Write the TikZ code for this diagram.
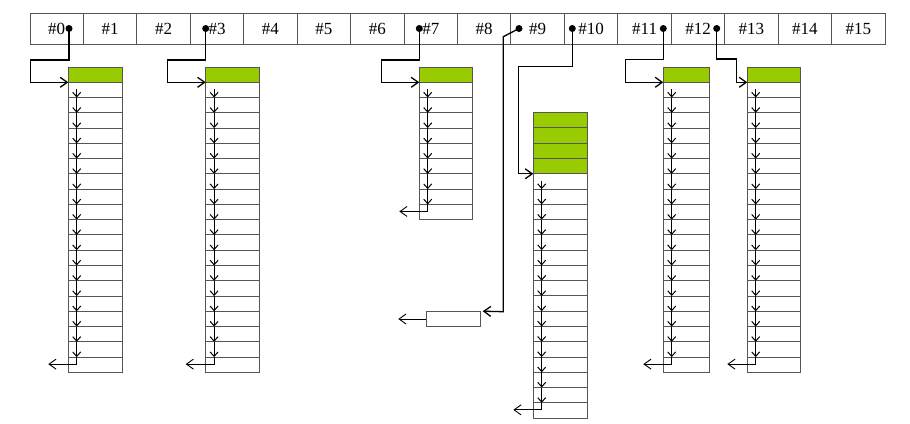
\documentclass[tikz,border=0pt]{standalone}
\usepackage{fontspec}
\setmainfont{Liberation Serif}
\usetikzlibrary{arrows.meta,calc}
\definecolor{cellgreen}{RGB}{153,204,0}
\definecolor{edgegray}{RGB}{85,85,85}
\tikzset{
  cellbox/.style={draw=edgegray,line width=1pt},
  topcell/.style={draw=edgegray,line width=1pt,minimum width=53.44pt,minimum height=30.7pt,inner sep=0pt,font=\fontsize{17}{19}\selectfont},
  downarr/.style={line width=1pt,-{Straight Barb[length=4.5pt,width=8pt]}},
  outarr/.style={line width=0.9pt,-{Straight Barb[length=7pt,width=10pt]}},
  ptr/.style={line width=1.3pt,-{Straight Barb[length=7pt,width=10pt]}},
  ptrdot/.style={fill=black,circle,inner sep=0pt,minimum size=7pt},
}
\newcommand\chaincol[5]{%
  \foreach \i in {1,...,#4}{
    \draw[cellbox,fill=cellgreen] (#1,{#3+(\i-1)*15.27}) rectangle ++(#2,15.27);
  }
  \pgfmathsetmacro\wtop{#3+#4*15.27}
  \foreach \i in {1,...,#5}{
    \draw[cellbox] (#1,{\wtop+(\i-1)*15.27}) rectangle ++(#2,15.27);
  }
  \pgfmathsetmacro\ax{#1+8.4}
  \pgfmathtruncatemacro\nlast{#5-1}
  \draw[downarr] (\ax,{\wtop+7}) -- (\ax,{\wtop+15.27});
  \foreach \i in {2,...,\nlast}{
    \draw[downarr] (\ax,{\wtop+(\i-1)*15.27}) -- (\ax,{\wtop+\i*15.27});
  }
  \pgfmathsetmacro\ly{\wtop+\nlast*15.27}
  \draw[outarr] (\ax,\ly) -- (\ax,{\ly+7}) -- ({#1-20},{\ly+7});
}
\begin{document}
\begin{tikzpicture}[x=1pt,y=-1pt]
\useasboundingbox (0,0) rectangle (910,423);
% top array
\foreach \k in {0,...,15}{
  \node[topcell] (c\k) at ({30+53.44*(\k+0.5)},28.65) {\#\k};
}
% columns
\chaincol{68.3}{54}{67}{1}{19}
\chaincol{205.7}{53.6}{67}{1}{19}
\chaincol{419.3}{53.4}{67}{1}{9}
\chaincol{533.3}{54.4}{112.7}{4}{16}
\chaincol{663.3}{46}{67}{1}{19}
\chaincol{747.3}{53.4}{67}{1}{19}
% small record for #9
\node[cellbox,minimum width=54pt,minimum height=15.7pt,inner sep=0pt] (r) at (453.7,318.85) {};
\coordinate (rout) at (398.3,319);
\draw[outarr] (r.west |- rout) -- (rout);
% dots
\coordinate (p0) at (69,28.5);
\coordinate (p3) at (205.7,28.5);
\coordinate (p7) at (419.3,28.5);
\coordinate (p9) at (519,28.5);
\coordinate (p10) at (572.3,28.5);
\coordinate (p11) at (663.3,28.5);
\coordinate (p12) at (716.7,28.5);
% entry points
\coordinate (e0) at (68.3,82.3);
\coordinate (e3) at (205.7,82.3);
\coordinate (e7) at (419.3,82.3);
\coordinate (e10) at (533.3,173.8);
\coordinate (e11) at (663.3,82.3);
\coordinate (e12) at (747.3,82.3);
% pointers
\draw[ptr] (p0) -- (69,60) -- (30.7,60) |- (e0);
\draw[ptr] (p3) -- (205.7,60) -- (167.7,60) |- (e3);
\draw[ptr] (p7) -- (419.3,60) -- (381.7,60) |- (e7);
\draw[ptr] (p9) -- (503.3,36.7) -- (503.3,311.7) -- ($(r.north east)+(1.5,0.7)$);
\draw[ptr] (p10) -- (572.3,66.7) -- (518.3,66.7) |- (e10);
\draw[ptr] (p11) -- (663.3,59.3) -- (625.7,59.3) |- (e11);
\draw[ptr] (p12) -- (716.7,59) -- (736.7,59) |- (e12);
\foreach \p in {p0,p3,p7,p9,p10,p11,p12}{
  \node[ptrdot] at (\p) {};
}
\end{tikzpicture}
\end{document}
